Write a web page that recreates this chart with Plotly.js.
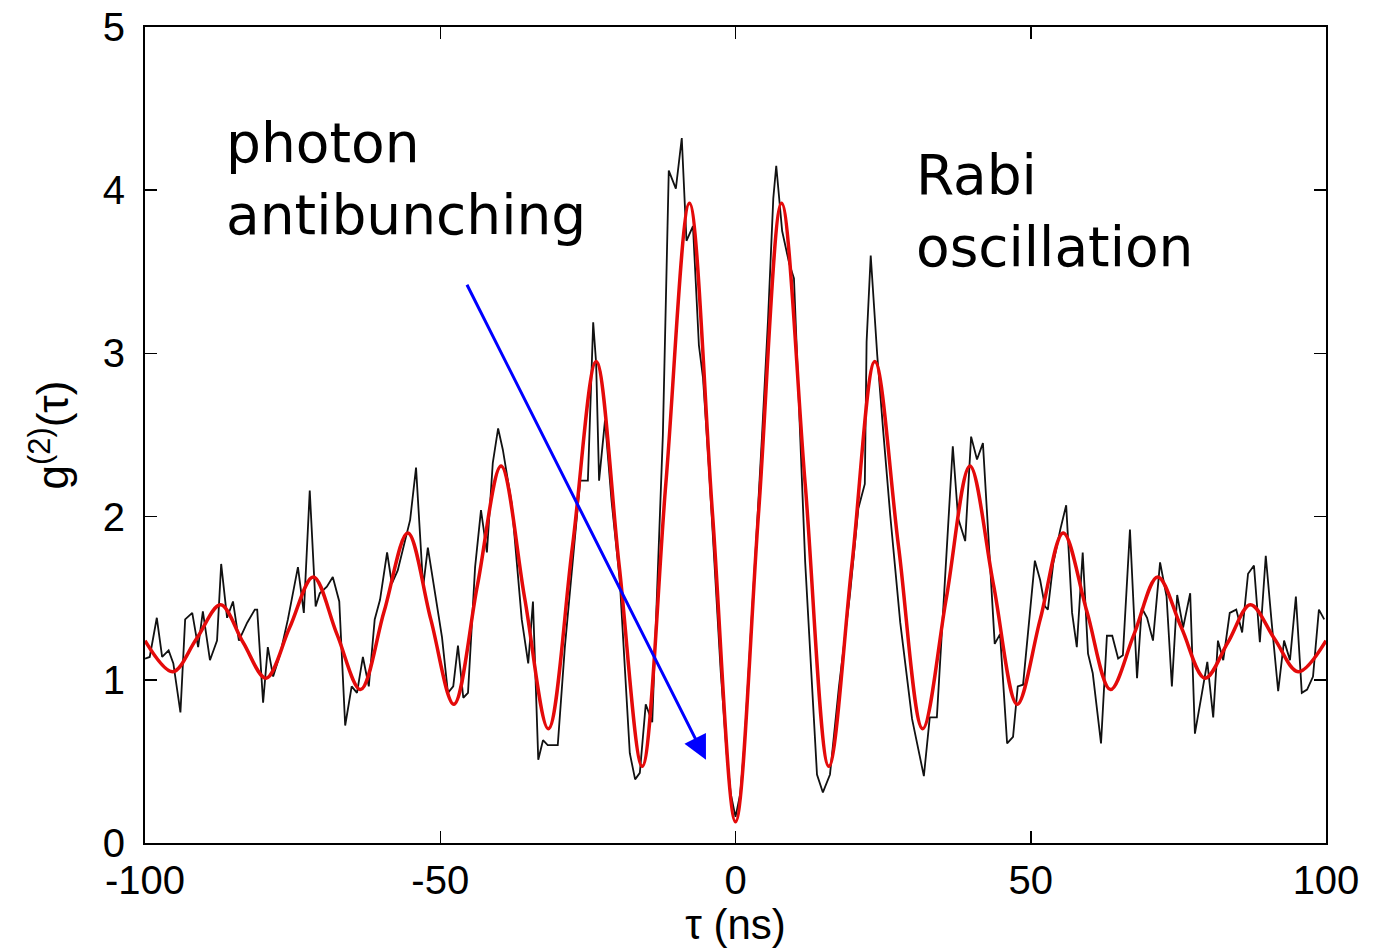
<!DOCTYPE html>
<html>
<head>
<meta charset="utf-8">
<script src="https://cdn.plot.ly/plotly-3.0.1.min.js"></script>
<style>html,body{margin:0;padding:0;background:#fff;}#chart{width:1383px;height:948px;}</style>
</head>
<body>
<div id="chart"></div>
<script>
// measured g2(tau) data (noisy black trace)
const tauData = [-100,-99.2,-98,-97.1,-96,-95.2,-94,-93.2,-92,-91,-90.2,-89,-87.8,-87.1,-86.1,-85.1,-84.1,-82.7,-81.4,-81,-80,-79.2,-78.3,-77.1,-75.8,-74.1,-73.1,-72.1,-71.1,-70.4,-69.2,-68.2,-67.1,-66.1,-65,-64.1,-63.1,-62.1,-61.1,-60.2,-59,-58.2,-57.2,-56.3,-55.1,-54.1,-52.9,-52.1,-50.9,-49.7,-48.7,-47.8,-47,-46.1,-45.3,-44.1,-43.1,-42.1,-41.1,-40.2,-39.4,-37.9,-36.2,-35.1,-34.3,-33.4,-32.6,-31.8,-30.1,-28.9,-27.5,-26.3,-25,-24.1,-23.6,-23.1,-22.1,-21,-19.6,-17.9,-17,-16.2,-15.2,-14.1,-12.3,-11.3,-10.1,-9.1,-8.3,-7.2,-6.2,-5.5,-4.5,-3.5,-2.5,-1.5,-0.8,0,0.8,1.5,2.5,3.5,4.5,5.5,6.4,6.9,7.9,9.1,9.9,11.8,13.8,14.8,16,17.5,19.4,20.8,21.9,22.2,22.9,24,25,26.2,27.9,29.9,31.9,32.9,34.1,36,36.8,37.7,38.9,39.9,40.9,41.9,43.9,44.8,46,47,47.8,48.7,50.7,51.6,52.4,52.9,53.8,55,56,57,57.8,58.8,59.7,60.5,61.9,62.9,63.8,64.8,65.6,66.8,68,68.8,69.7,70.7,71.9,73,73.9,74.8,75.8,77,77.8,79,79.9,80.9,81.7,82.6,83.7,84.8,85.8,86.8,87.8,88.8,89.8,90.8,91.9,92.9,93.9,94.9,95.9,96.8,97.8,98.8,99.7];
const g2Data = [1.13,1.14,1.38,1.14,1.18,1.10,0.80,1.37,1.41,1.20,1.42,1.12,1.24,1.71,1.38,1.48,1.24,1.35,1.43,1.43,0.86,1.20,1.02,1.16,1.37,1.69,1.41,2.16,1.45,1.53,1.57,1.63,1.48,0.72,0.96,0.92,1.14,0.96,1.37,1.49,1.78,1.59,1.67,1.81,1.98,2.30,1.57,1.81,1.53,1.26,0.92,0.96,1.21,0.89,0.92,1.69,2.04,1.78,2.33,2.54,2.41,2.08,1.37,1.10,1.48,0.51,0.63,0.60,0.60,1.20,1.75,2.22,2.22,3.19,2.94,2.22,2.59,2.10,1.61,0.55,0.39,0.43,0.85,0.74,2.50,4.12,4.01,4.32,3.69,3.78,3.05,2.85,2.30,1.70,1.05,0.55,0.30,0.16,0.30,0.60,1.20,1.85,2.50,3.20,3.95,4.15,3.75,3.55,3.46,1.72,0.42,0.31,0.42,0.95,1.53,2.05,2.20,3.07,3.60,2.99,2.53,2.01,1.35,0.76,0.41,0.77,0.77,1.92,2.43,1.99,1.85,2.49,2.35,2.45,1.22,1.28,0.61,0.65,0.96,0.97,1.73,1.61,1.45,1.43,1.71,1.92,2.07,1.41,1.20,1.78,1.16,1.04,0.61,1.27,1.27,1.13,1.15,1.92,1.01,1.44,1.38,1.24,1.72,1.51,0.96,1.52,1.32,1.53,0.67,0.92,1.11,0.77,1.24,1.12,1.41,1.43,1.29,1.65,1.70,1.23,1.76,1.35,0.93,1.24,1.12,1.51,0.92,0.94,1.02,1.43,1.37];

// fitted curve (red) read at extrema and mid-points
const tauFit = [-100,-95.3,-91.3,-87.2,-83.4,-79.5,-75.5,-71.5,-67.5,-63.5,-59.5,-55.5,-51.6,-47.7,-43.7,-39.7,-35.7,-31.7,-27.6,-23.6,-19.7,-15.8,-11.8,-7.8,-3.9,0,3.9,7.8,11.8,15.8,19.7,23.6,27.6,31.7,35.7,39.7,43.7,47.7,51.6,55.5,59.5,63.5,67.5,71.5,75.5,79.5,83.4,87.2,91.3,95.3,100];
const g2Fit = [1.24,1.05,1.25,1.46,1.23,1.01,1.32,1.63,1.28,0.94,1.42,1.90,1.37,0.85,1.58,2.31,1.50,0.70,1.82,2.95,1.70,0.47,2.20,3.92,2.02,0.13,2.02,3.92,2.20,0.47,1.70,2.95,1.82,0.70,1.50,2.31,1.58,0.85,1.37,1.90,1.42,0.94,1.28,1.63,1.32,1.01,1.23,1.46,1.25,1.05,1.24];

const xTicks = [-100,-50,0,50,100];
const yTicks = [0,1,2,3,4,5];

const traces = [
  {x: tauData, y: g2Data, type: 'scatter', mode: 'lines',
   line: {color: '#111111', width: 1.8}, hoverinfo: 'skip'},
  {x: tauFit, y: g2Fit, type: 'scatter', mode: 'lines',
   line: {color: 'rgb(228,10,10)', width: 3.5, shape: 'spline', smoothing: 1}, hoverinfo: 'skip'}
];

const axisCommon = {
  showgrid: false, zeroline: false, showline: true, linecolor: '#000', linewidth: 2,
  mirror: 'ticks', ticks: 'inside', ticklen: 12, tickwidth: 1.5, tickcolor: '#000',
  tickfont: {family: 'Liberation Sans, Arial, sans-serif', size: 40, color: '#000'}
};

const layout = {
  width: 1383, height: 948,
  margin: {l: 145, r: 57, t: 27, b: 105},
  paper_bgcolor: '#fff', plot_bgcolor: '#fff',
  showlegend: false,
  xaxis: Object.assign({}, axisCommon, {
    range: [-100, 100], tickvals: xTicks, ticktext: xTicks.map(String),
    ticklabelstandoff: 1,
    title: {text: 'τ (ns)', font: {family: 'Liberation Sans, Arial, sans-serif', size: 42, color: '#000'}, standoff: 28}
  }),
  yaxis: Object.assign({}, axisCommon, {
    range: [0, 5], tickvals: yTicks, ticktext: yTicks.map(String),
    ticklabelstandoff: 10,
    title: {text: 'g<sup>(2)</sup>(τ)', font: {family: 'Liberation Sans, Arial, sans-serif', size: 44, color: '#000'}, standoff: 20}
  }),
  annotations: [
    {xref: 'x', yref: 'y', x: -5.0, y: 0.51, axref: 'x', ayref: 'y', ax: -45.6, ay: 3.43,
     showarrow: true, arrowhead: 2, arrowsize: 1.6, arrowwidth: 3, arrowcolor: '#0000ff', text: ''},
    {xref: 'x', yref: 'y', x: -86.6, y: 4.07, xanchor: 'left', yanchor: 'middle', align: 'left',
     showarrow: false, text: 'photon<br>antibunching',
     font: {family: 'DejaVu Sans, sans-serif', size: 55, color: '#000'}},
    {xref: 'x', yref: 'y', x: 30.2, y: 3.87, xanchor: 'left', yanchor: 'middle', align: 'left',
     showarrow: false, text: 'Rabi<br>oscillation',
     font: {family: 'DejaVu Sans, sans-serif', size: 55, color: '#000'}}
  ]
};

Plotly.newPlot('chart', traces, layout, {displayModeBar: false, staticPlot: true});
</script>
</body>
</html>
